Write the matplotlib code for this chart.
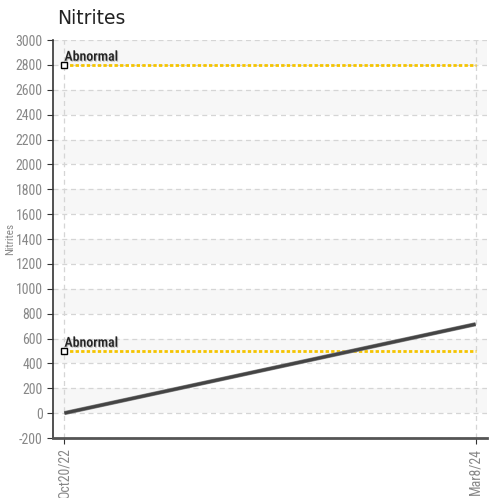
import matplotlib
matplotlib.use("Agg")
import matplotlib.pyplot as plt
import matplotlib.patheffects as pe
from matplotlib import font_manager
import datetime as dt

dates = [dt.date(2022, 10, 20), dt.date(2024, 3, 8)]
values = [0, 715]
tick_labels = ["Oct20/22", "Mar8/24"]
thresholds = [2800, 500]
threshold_labels = ["Abnormal", "Abnormal"]
title = "Nitrites"

plt.rcParams["axes.unicode_minus"] = False
names = {f.name for f in font_manager.fontManager.ttflist}
cond = "Roboto Condensed" if "Roboto Condensed" in names else "DejaVu Sans"

fig = plt.figure(figsize=(4.91, 4.98), dpi=100)
ax = fig.add_axes([53/491, 60/498, 434/491, 398/498])

pad = dt.timedelta(days=14.8)
ax.set_xlim(dates[0] - pad, dates[-1] + pad)
ax.set_ylim(-200, 3000)

# alternating bands
for y0 in range(0, 3000, 400):
    ax.axhspan(y0, y0 + 200, color="#f7f7f7", zorder=0, lw=0)

ax.set_yticks(range(-200, 3001, 200))
ax.set_xticks(dates)
ax.set_xticklabels(tick_labels, rotation=90)
ax.grid(True, color="#d5d5d5", linestyle=(0, (4, 3)), lw=0.9, zorder=1)

for t, lab in zip(thresholds, threshold_labels):
    ax.plot(dates, [t, t], color="#f5c400", lw=2, linestyle=(0, (1.2, 0.8)), zorder=3)
    ax.plot([dates[0]], [t], marker="s", ms=4.5, mfc="white", mec="black", mew=1, zorder=5)
    ax.annotate(lab, (dates[0], t), xytext=(0, 3), textcoords="offset points",
                fontsize=10, family=cond, color="#222222", fontweight="medium",
                path_effects=[pe.withSimplePatchShadow(offset=(0.7, -0.7), shadow_rgbFace="#999999", alpha=0.6)],
                zorder=6)

ax.plot(dates, values, color="#444444", lw=2.2, solid_capstyle="butt", zorder=4,
        path_effects=[pe.Stroke(linewidth=3.0, foreground="#888888"), pe.Normal()])

for s in ["top", "right"]:
    ax.spines[s].set_visible(False)
ax.spines["left"].set_color("#333333")
ax.spines["left"].set_linewidth(1.2)
ax.spines["bottom"].set_color("#555555")
ax.spines["bottom"].set_linewidth(2)
ax.tick_params(axis="both", colors="#333333", labelcolor="#888888", labelsize=10, length=4)
for lbl in ax.get_yticklabels() + ax.get_xticklabels():
    lbl.set_family(cond)

ax.set_ylabel("Nitrites", fontsize=8, color="#888888", family=cond, labelpad=0)
fig.text(57/491, 1 - 18/498, title, fontsize=13.5, color="#222222", va="center", ha="left")

fig.savefig("out.png", dpi=100)
